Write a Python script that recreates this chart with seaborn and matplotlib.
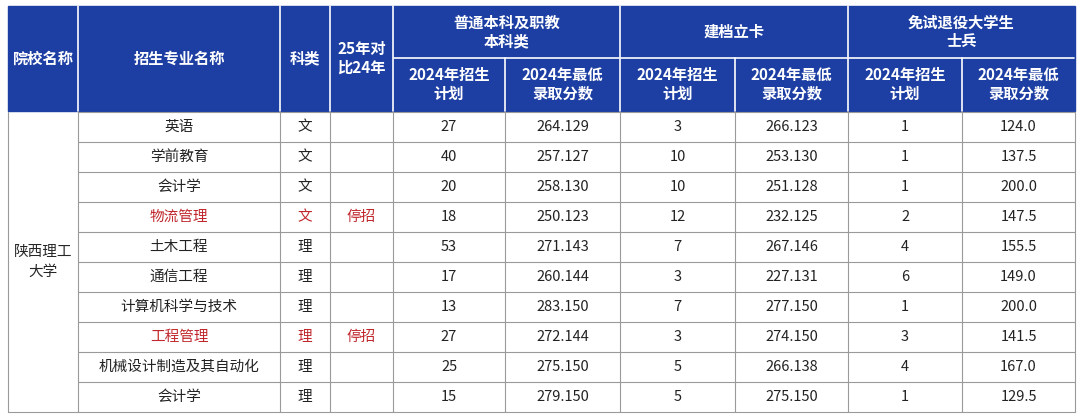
import matplotlib
matplotlib.use("Agg")
import matplotlib.pyplot as plt
import seaborn as sns

sns.set_style("white")
plt.rcParams["font.family"] = "Noto Sans CJK SC"

school = "陕西理工\n大学"
majors = ["英语", "学前教育", "会计学", "物流管理", "土木工程", "通信工程", "计算机科学与技术", "工程管理", "机械设计制造及其自动化", "会计学"]
kelei = ["文", "文", "文", "文", "理", "理", "理", "理", "理", "理"]
compare = ["", "", "", "停招", "", "", "", "停招", "", ""]
plan_normal = [27, 40, 20, 18, 53, 17, 13, 27, 25, 15]
score_normal = ["264.129", "257.127", "258.130", "250.123", "271.143", "260.144", "283.150", "272.144", "275.150", "279.150"]
plan_card = [3, 10, 10, 12, 7, 3, 7, 3, 5, 5]
score_card = ["266.123", "253.130", "251.128", "232.125", "267.146", "227.131", "277.150", "274.150", "266.138", "275.150"]
plan_vet = [1, 1, 1, 2, 4, 6, 1, 3, 4, 1]
score_vet = ["124.0", "137.5", "200.0", "147.5", "155.5", "149.0", "200.0", "141.5", "167.0", "129.5"]

W, H = 1080, 418
fig = plt.figure(figsize=(W / 100, H / 100), dpi=100)
ax = fig.add_axes([0, 0, 1, 1])
ax.set_xlim(0, W); ax.set_ylim(H, 0); ax.axis("off")

xs = [8, 78, 280, 330, 393, 505, 620, 735, 848, 962, 1075]
blue = "#1d3fa3"
htop, hmid, hbot = 6, 58, 111
ax.add_patch(plt.Rectangle((xs[0], htop), xs[-1] - xs[0], hbot - htop, color=blue, zorder=0))
wc = dict(color="white", ha="center", va="center", fontsize=11, fontweight="bold")
for i, t in enumerate(["院校名称", "招生专业名称", "科类", "25年对\n比24年"]):
    ax.text((xs[i] + xs[i + 1]) / 2, (htop + hbot) / 2, t, **wc)
groups = ["普通本科及职教\n本科类", "建档立卡", "免试退役大学生\n士兵"]
for g, t in enumerate(groups):
    a, b = xs[4 + 2 * g], xs[6 + 2 * g]
    ax.text((a + b) / 2, (htop + hmid) / 2, t, **wc)
    ax.plot([a + 1, b - 1], [hmid, hmid], color="white", lw=1.2)
    ax.text((a + xs[5 + 2 * g]) / 2, (hmid + hbot) / 2, "2024年招生\n计划", **wc)
    ax.text((xs[5 + 2 * g] + b) / 2, (hmid + hbot) / 2, "2024年最低\n录取分数", **wc)
for i, x in enumerate(xs[1:-1]):
    i += 1
    y0 = hmid if i in (5, 7, 9) else htop
    ax.plot([x, x], [y0, hbot], color="white", lw=1.2)

rt, rh = 112, 30
n = len(majors)
bot = rt + rh * n
gray = "#9a9a9a"
for x in xs:
    ax.plot([x, x], [rt, bot], color=gray, lw=0.8)
for r in range(n + 1):
    ax.plot([xs[1], xs[-1]], [rt + r * rh] * 2, color=gray, lw=0.8)
ax.plot([xs[0], xs[1]], [bot, bot], color=gray, lw=0.8)
ax.text((xs[0] + xs[1]) / 2, (rt + bot) / 2, school, ha="center", va="center", fontsize=10.5, linespacing=1.6)
red = "#c0262b"
for r in range(n):
    yc = rt + r * rh + rh / 2
    stop = compare[r] == "停招"
    c = red if stop else "#222222"
    vals = [majors[r], kelei[r], compare[r], plan_normal[r], score_normal[r], plan_card[r], score_card[r], plan_vet[r], score_vet[r]]
    for j, v in enumerate(vals):
        col = c if j < 3 else "#222222"
        ax.text((xs[j + 1] + xs[j + 2]) / 2, yc, str(v), ha="center", va="center", fontsize=10.5, color=col)

fig.savefig("out.png", dpi=100, facecolor="white")
